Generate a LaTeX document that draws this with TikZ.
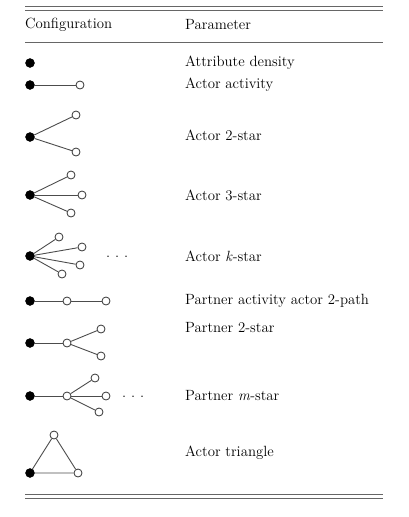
\documentclass[tikz,border=0pt]{standalone}
\usepackage{tikz}
\tikzset{
	ego/.style={circle, fill=black, draw=black, inner sep=0pt, minimum size=9pt},
	alter/.style={circle, fill=white, draw=black!80, line width=0.8pt, inner sep=0pt, minimum size=8pt},
	tie/.style={draw=black!70, line width=0.9pt},
	rule/.style={draw=black!60, line width=1pt},
	param/.style={anchor=west, inner sep=0pt, font=\fontsize{14.8}{17}\selectfont}
}
\begin{document}
\begin{tikzpicture}[x=1pt, y=-1pt]
		\useasboundingbox (0,0) rectangle (408,517);
		
		% rules
		\draw [rule] (25,6) -- (383,6);
		\draw [rule] (25,10) -- (383,10);
		\draw [rule] (25,42) -- (383,42);
		\draw [rule] (25,494) -- (383,494);
		\draw [rule] (25,498) -- (383,498);
		
		\node [param] (hconf) at (25,25) {Configuration};
		\node [param] (hpar) at (185,25) {Parameter};
		
		% attribute density
		\node [ego] (a1) at (30,63) {};
		\node [param] (p1) at (185,63) {Attribute density};
		
		% actor activity
		\node [ego] (b1) at (30,85) {};
		\node [alter] (b2) at (80,85) {};
		\draw [tie] (b1) -- (b2);
		\node [param] (p2) at (185,85) {Actor activity};
		
		% actor 2-star
		\node [ego] (c1) at (30,137) {};
		\node [alter] (c2) at (76,115) {};
		\node [alter] (c3) at (76,152) {};
		\draw [tie] (c1) -- (c2);
		\draw [tie] (c1) -- (c3);
		\node [param] (p3) at (185,135) {Actor 2-star};
		
		% actor 3-star
		\node [ego] (d1) at (30,195) {};
		\foreach \n/\x/\y in {d2/71/175, d3/82/195, d4/71/213} {
			\node [alter] (\n) at (\x,\y) {};
			\draw [tie] (d1) -- (\n);
		}
		\node [param] (p4) at (185,195) {Actor 3-star};
		
		% actor k-star
		\node [ego] (e1) at (30,256) {};
		\foreach \n/\x/\y in {e2/59/237, e3/82/247, e4/80/265, e5/62/274} {
			\node [alter] (\n) at (\x,\y) {};
			\draw [tie] (e1) -- (\n);
		}
		\node [param] (edots) at (106,257) {.\,\,.\,\,.};
		\node [param] (p5) at (185,256) {Actor \textit{k}-star};
		
		% partner activity actor 2-path
		\node [ego] (f1) at (30,301) {};
		\node [alter] (f2) at (67,301) {};
		\node [alter] (f3) at (106,301) {};
		\draw [tie] (f1) -- (f2) -- (f3);
		\node [param] (p6) at (185,301) {Partner activity actor 2-path};
		
		% partner 2-star
		\node [ego] (g1) at (30,343) {};
		\node [alter] (g2) at (67,343) {};
		\node [alter] (g3) at (101,329) {};
		\node [alter] (g4) at (101,356) {};
		\draw [tie] (g1) -- (g2);
		\draw [tie] (g2) -- (g3);
		\draw [tie] (g2) -- (g4);
		\node [param] (p7) at (185,328) {Partner 2-star};
		
		% partner m-star
		\node [ego] (h1) at (30,396) {};
		\node [alter] (h2) at (67,396) {};
		\draw [tie] (h1) -- (h2);
		\foreach \n/\x/\y in {h3/95/378, h4/106/396, h5/99/412} {
			\node [alter] (\n) at (\x,\y) {};
			\draw [tie] (h2) -- (\n);
		}
		\node [param] (hdots) at (122,397) {.\,\,.\,\,.};
		\node [param] (p8) at (185,396) {Partner \textit{m}-star};
		
		% actor triangle
		\node [ego] (t1) at (30,473) {};
		\node [alter] (t2) at (54,435) {};
		\node [alter] (t3) at (78,473) {};
		\draw [tie] (t1) -- (t2) -- (t3) -- (t1);
		\node [param] (p9) at (185,453) {Actor triangle};
	\end{tikzpicture}
\end{document}
